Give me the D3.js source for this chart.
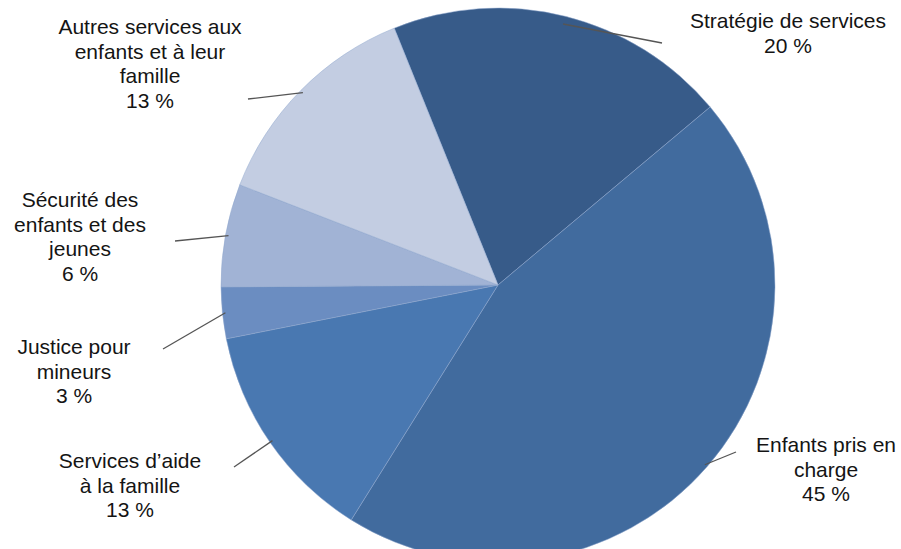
<!DOCTYPE html>
<html>
<head>
<meta charset="utf-8">
<script src="https://cdn.jsdelivr.net/npm/d3@7"></script>
<style>
  html, body { margin: 0; padding: 0; background: #fff; }
  svg text { font-family: "Liberation Sans", Arial, sans-serif; font-size: 21px; fill: #141414; }
</style>
</head>
<body>
<div id="chart"></div>
<script>
// data
const categories = [
    ['Stratégie de services'],
    ['Enfants pris en', 'charge'],
    ['Services d\u2019aide', 'à la famille'],
    ['Justice pour', 'mineurs'],
    ['Sécurité des', 'enfants et des', 'jeunes'],
    ['Autres services aux', 'enfants et à leur', 'famille']
]
const shares = [20, 45, 13, 3, 6, 13]
const colours = ['#375b89', '#416b9e', '#4978b1', '#6b8dc1', '#a1b3d5', '#c3cde2']

// label placement (centre x, first line y) and leader line end
const labelPos = [
    { x: 788, y: 28, lx: 662, ly: 43 },
    { x: 826, y: 452, lx: 736, ly: 452 },
    { x: 130, y: 468, lx: 234, ly: 467 },
    { x: 74, y: 354, lx: 163, ly: 349 },
    { x: 80, y: 207, lx: 175, ly: 241 },
    { x: 150, y: 34, lx: 248, ly: 99 }
]

const width = 901
const height = 549
const cx = 498
const cy = 285
const radius = 277
const lineH = 24.5

let svg = d3.select('#chart')
    .append('svg')
    .attr('width', width)
    .attr('height', height)

let pie = d3.pie()
    .sort(null)
    .startAngle(-22 * Math.PI / 180)
    .endAngle((360 - 22) * Math.PI / 180)
    .value(function (d) { return d })

let arc = d3.arc().innerRadius(0).outerRadius(radius)
let arcs = pie(shares)

let g = svg.append('g').attr('transform', 'translate(' + cx + ',' + cy + ')')

g.selectAll('path')
    .data(arcs)
    .enter()
    .append('path')
    .attr('d', arc)
    .attr('fill', function (d, i) { return colours[i] })
    .attr('stroke', '#8ea6cc')
    .attr('stroke-width', 0.5)

// leader lines: from slice edge to label
arcs.forEach(function (d, i) {
    let mid = (d.startAngle + d.endAngle) / 2
    let r0 = i === 0 ? radius - 8 : radius - 3
    let x0 = cx + Math.sin(mid) * r0
    let y0 = cy - Math.cos(mid) * r0
    let p = labelPos[i]
    svg.append('line')
        .attr('x1', x0).attr('y1', y0)
        .attr('x2', p.lx).attr('y2', p.ly)
        .attr('stroke', '#555')
        .attr('stroke-width', 1.3)
})

// labels
categories.forEach(function (lines, i) {
    let p = labelPos[i]
    let t = svg.append('text')
        .attr('text-anchor', 'middle')
        .attr('x', p.x)
        .attr('y', p.y)
    let all = lines.concat([shares[i] + ' %'])
    all.forEach(function (s, k) {
        t.append('tspan')
            .attr('x', p.x)
            .attr('dy', k === 0 ? 0 : lineH)
            .text(s)
    })
})
</script>
</body>
</html>
